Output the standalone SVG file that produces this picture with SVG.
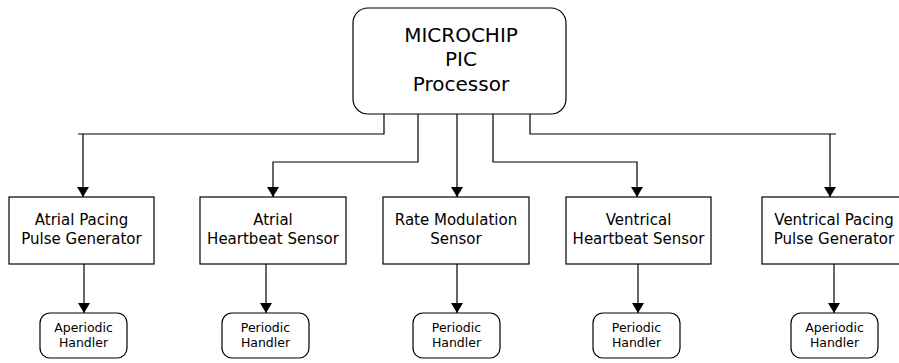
<svg xmlns="http://www.w3.org/2000/svg" width="899" height="363" viewBox="0 0 899 363">
<style>
.box{fill:#fff;stroke:#000;stroke-width:1.2}
.c{fill:none;stroke:#000;stroke-width:1.2}
text{font-family:"DejaVu Sans",sans-serif;fill:#000;text-anchor:middle}
.t1{font-size:20px}
.t2{font-size:15px}
.t3{font-size:12.5px}
</style>
<defs>
<marker id="ah" viewBox="0 0 10 12" refX="10" refY="6" markerWidth="10" markerHeight="12" markerUnits="userSpaceOnUse" orient="auto">
<path d="M0,0 L10,6 L0,12 Z" fill="#000"/>
</marker>
</defs>
<rect width="899" height="363" fill="#fff"/>
<g id="connectors">
<path class="c" d="M384,114 V134 H78 M83,134 V197" marker-end="url(#ah)"/>
<path class="c" d="M418,114 V162 H273 V197" marker-end="url(#ah)"/>
<path class="c" d="M457,114 V197" marker-end="url(#ah)"/>
<path class="c" d="M493,114 V162 H637 V197" marker-end="url(#ah)"/>
<path class="c" d="M530,114 V134 H836 M830,134 V197" marker-end="url(#ah)"/>
<path class="c" d="M84,264 V313" marker-end="url(#ah)"/>
<path class="c" d="M266,264 V313" marker-end="url(#ah)"/>
<path class="c" d="M457,264 V313" marker-end="url(#ah)"/>
<path class="c" d="M638,264 V313" marker-end="url(#ah)"/>
<path class="c" d="M834,264 V313" marker-end="url(#ah)"/>
</g>
<g id="processor">
<rect class="box" x="353" y="8" width="213" height="106" rx="15"/>
<text class="t1" x="461" y="42">MICROCHIP</text>
<text class="t1" x="461" y="66">PIC</text>
<text class="t1" x="461" y="91">Processor</text>
</g>
<g id="atrial-pacing">
<rect class="box" x="9" y="197" width="145" height="67"/>
<text class="t2" x="81.5" y="225">Atrial Pacing</text>
<text class="t2" x="81.5" y="244">Pulse Generator</text>
</g>
<g id="atrial-sensor">
<rect class="box" x="200" y="197" width="146" height="67"/>
<text class="t2" x="273" y="225">Atrial</text>
<text class="t2" x="273" y="244">Heartbeat Sensor</text>
</g>
<g id="rate-sensor">
<rect class="box" x="383" y="197" width="146" height="67"/>
<text class="t2" x="456" y="225">Rate Modulation</text>
<text class="t2" x="456" y="244">Sensor</text>
</g>
<g id="ventrical-sensor">
<rect class="box" x="566" y="197" width="145" height="67"/>
<text class="t2" x="638.5" y="225">Ventrical</text>
<text class="t2" x="638.5" y="244">Heartbeat Sensor</text>
</g>
<g id="ventrical-pacing">
<rect class="box" x="762" y="197" width="145" height="67"/>
<text class="t2" x="834" y="225">Ventrical Pacing</text>
<text class="t2" x="834" y="244">Pulse Generator</text>
</g>
<g id="handler1">
<rect class="box" x="40" y="313" width="87" height="45" rx="10"/>
<text class="t3" x="83.5" y="332">Aperiodic</text>
<text class="t3" x="83.5" y="347">Handler</text>
</g>
<g id="handler2">
<rect class="box" x="222" y="313" width="87" height="45" rx="10"/>
<text class="t3" x="265.5" y="332">Periodic</text>
<text class="t3" x="265.5" y="347">Handler</text>
</g>
<g id="handler3">
<rect class="box" x="413" y="313" width="87" height="45" rx="10"/>
<text class="t3" x="456.5" y="332">Periodic</text>
<text class="t3" x="456.5" y="347">Handler</text>
</g>
<g id="handler4">
<rect class="box" x="593" y="313" width="87" height="45" rx="10"/>
<text class="t3" x="636.5" y="332">Periodic</text>
<text class="t3" x="636.5" y="347">Handler</text>
</g>
<g id="handler5">
<rect class="box" x="791" y="313" width="87" height="45" rx="10"/>
<text class="t3" x="834.5" y="332">Aperiodic</text>
<text class="t3" x="834.5" y="347">Handler</text>
</g>
</svg>
